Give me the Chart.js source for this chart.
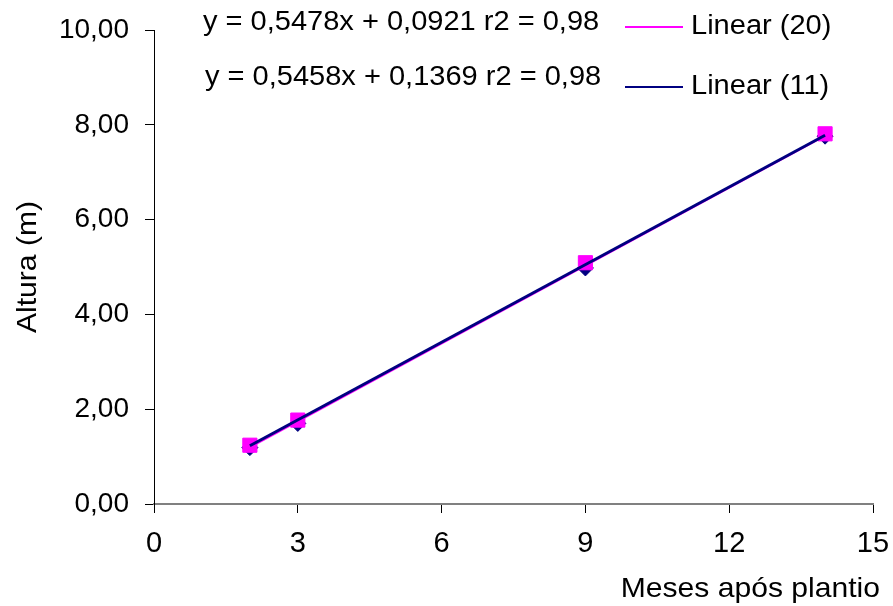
<!DOCTYPE html>
<html>
<head>
<meta charset="utf-8">
<script src="https://cdn.jsdelivr.net/npm/chart.js@4/dist/chart.umd.min.js"></script>
<style>
  html, body { margin: 0; padding: 0; background: #fff; }
  #wrap { width: 893px; height: 606px; }
</style>
</head>
<body>
<div id="wrap"><canvas id="grafico" width="893" height="606"></canvas></div>
<script>
// Meses após plantio
const meses = [2, 3, 9, 14];
// Altura (m) para as duas séries
const altura20 = [1.24, 1.77, 5.09, 7.81];
const altura11 = [1.19, 1.70, 4.98, 7.76];
// linhas de tendência (pontos inicial e final)
const tendX = [2, 14];
const tend20 = [1.19, 7.76];
const tend11 = [1.23, 7.78];
const equacoes = ['y = 0,5478x + 0,0921 r2 = 0,98', 'y = 0,5458x + 0,1369 r2 = 0,98'];
const xTicks = [0, 3, 6, 9, 12, 15];
const yTickLabels = ['0,00', '2,00', '4,00', '6,00', '8,00', '10,00'];

const FONTE = "'Liberation Sans', Arial, sans-serif";
const ESTICA = 1.075; // texto do original é um pouco mais largo

function pontos(xs, ys) {
    return xs.map((x, i) => ({ x: x, y: ys[i] }));
}

function texto(ctx, str, x, y) {
    ctx.save();
    ctx.translate(x, y);
    ctx.scale(ESTICA, 1);
    ctx.fillText(str, 0, 0);
    ctx.restore();
}

// textos livres: equações, legenda e títulos dos eixos
const textos = {
    id: 'textos',
    afterDraw(chart) {
        const ctx = chart.ctx;
        const area = chart.chartArea;
        ctx.save();
        ctx.fillStyle = '#000';
        ctx.textBaseline = 'middle';
        ctx.font = '27px ' + FONTE;
        ctx.textAlign = 'left';
        texto(ctx, equacoes[0], 203, 23);
        texto(ctx, equacoes[1], 205, 78);

        // legenda das tendências
        [0, 1].forEach(i => {
            const ds = chart.data.datasets[1 - i];
            const y = 27 + i * 60;
            ctx.strokeStyle = ds.borderColor;
            ctx.lineWidth = 2;
            ctx.beginPath();
            ctx.moveTo(625, y);
            ctx.lineTo(683, y);
            ctx.stroke();
            texto(ctx, ds.label, 691, y);
        });

        ctx.font = '28px ' + FONTE;
        ctx.textAlign = 'right';
        texto(ctx, 'Meses após plantio', 880, 589);

        ctx.translate(28, (area.top + area.bottom) / 2);
        ctx.rotate(-Math.PI / 2);
        ctx.textAlign = 'center';
        texto(ctx, 'Altura (m)', 0, 0);
        ctx.restore();
    }
};

new Chart(document.getElementById('grafico'), {
    type: 'scatter',
    data: {
        datasets: [
            {
                label: 'Linear (11)',
                type: 'line',
                data: pontos(tendX, tend11),
                borderColor: '#000080',
                borderWidth: 3,
                pointRadius: 0,
                fill: false
            },
            {
                label: 'Linear (20)',
                type: 'line',
                data: pontos(tendX, tend20),
                borderColor: '#FF00FF',
                borderWidth: 1.5,
                pointRadius: 0,
                fill: false
            },
            {
                label: '20',
                data: pontos(meses, altura20),
                pointStyle: 'rect',
                pointRadius: 10,
                backgroundColor: '#FF00FF',
                borderColor: '#FF00FF',
                borderWidth: 1
            },
            {
                label: '11',
                data: pontos(meses, altura11),
                pointStyle: 'rectRot',
                pointRadius: 8,
                backgroundColor: '#000080',
                borderColor: '#000080',
                borderWidth: 1
            }
        ]
    },
    options: {
        responsive: false,
        animation: false,
        layout: { padding: { top: 30, right: 20, left: 0, bottom: 0 } },
        plugins: {
            legend: { display: false },
            tooltip: { enabled: false }
        },
        scales: {
            x: {
                type: 'linear',
                min: 0,
                max: 15,
                afterBuildTicks: scale => { scale.ticks = xTicks.map(v => ({ value: v })); },
                afterFit: scale => {
                    scale.height = 102;
                    scale.paddingLeft = 0;
                    scale.paddingRight = 0;
                },
                grid: { drawOnChartArea: false, drawTicks: true, tickLength: 9, color: '#000' },
                border: { color: '#808080', width: 2 },
                ticks: {
                    color: '#000',
                    padding: 14,
                    maxRotation: 0,
                    font: { family: FONTE, size: 29 }
                }
            },
            y: {
                min: 0,
                max: 10,
                afterFit: scale => {
                    scale.width = 154;
                    scale.paddingTop = 0;
                    scale.paddingBottom = 0;
                },
                grid: { drawOnChartArea: false, drawTicks: true, tickLength: 9, color: '#000' },
                border: { color: '#000', width: 1 },
                ticks: {
                    stepSize: 2,
                    color: '#000',
                    padding: 16,
                    font: { family: FONTE, size: 28 },
                    callback: (v, i) => yTickLabels[i]
                }
            }
        }
    },
    plugins: [textos]
});
</script>
</body>
</html>
